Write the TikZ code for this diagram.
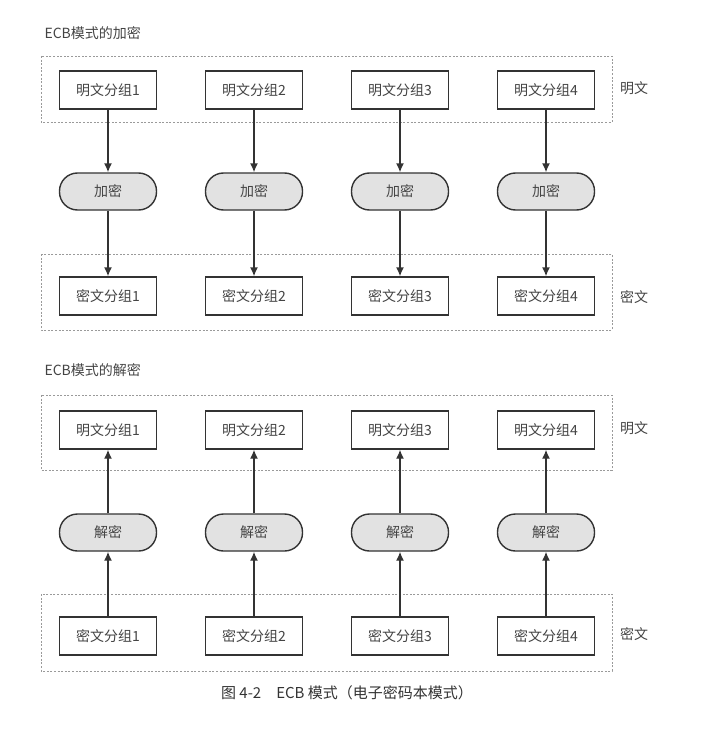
\documentclass[tikz,border=0pt]{standalone}
\usepackage{fontspec}
\setmainfont{Noto Sans CJK SC}
\usetikzlibrary{arrows.meta}
\definecolor{ecbLinea}{HTML}{333333}
\definecolor{ecbTexto}{HTML}{444444}
\definecolor{ecbRelleno}{HTML}{E2E2E2}
\definecolor{ecbMarco}{HTML}{9A9A9A}

\begin{document}
\begin{tikzpicture}[x=1pt, y=-1pt, font=\fontsize{14}{16}\selectfont,
    every node/.style={align=center, text=ecbTexto},
    bloque/.style={draw=ecbLinea, line width=1.4pt, fill=white, minimum width=97pt, minimum height=38pt, inner sep=0pt},
    cifra/.style={draw=ecbLinea, line width=1.4pt, fill=ecbRelleno, rounded corners=18pt, minimum width=97pt, minimum height=37pt, inner sep=0pt},
    marco/.style={draw=ecbMarco, line width=0.7pt, dash pattern=on 2pt off 1.6pt},
    flecha/.style={draw=ecbLinea, line width=1.4pt, -{Latex[length=9pt, width=8pt]}}]
  \useasboundingbox (0,0) rectangle (715,733);

  % cifrado
  \node[anchor=west] (tituloA) at (41,33) {ECB模式的加密};
  \draw[marco] (41,56) rectangle (612,122);
  \draw[marco] (41,254) rectangle (612,330);
  \node (ladoPA) at (634,88) {明文};
  \node (ladoCA) at (634,297) {密文};
  \foreach \i in {1,...,4} {
    \pgfmathsetmacro{\x}{108+146*(\i-1)}
    \node[bloque] (pa\i) at (\x,90) {明文分组\i};
    \node[cifra] (ea\i) at (\x,191.5) {加密};
    \node[bloque] (ca\i) at (\x,296) {密文分组\i};
    \draw[flecha] (pa\i) -- (ea\i);
    \draw[flecha] (ea\i) -- (ca\i);
  }

  % descifrado
  \node[anchor=west] (tituloD) at (41,370) {ECB模式的解密};
  \draw[marco] (41,395) rectangle (612,470);
  \draw[marco] (41,594) rectangle (612,671);
  \node (ladoPD) at (634,428) {明文};
  \node (ladoCD) at (634,634) {密文};
  \foreach \i in {1,...,4} {
    \pgfmathsetmacro{\x}{108+146*(\i-1)}
    \node[bloque] (pd\i) at (\x,430) {明文分组\i};
    \node[cifra] (dd\i) at (\x,532.5) {解密};
    \node[bloque] (cd\i) at (\x,636) {密文分组\i};
    \draw[flecha] (cd\i) -- (dd\i);
    \draw[flecha] (dd\i) -- (pd\i);
  }

  \node[text=ecbLinea, font=\fontsize{15}{17}\selectfont] (pie) at (347,693) {图 4-2\hspace{1em}ECB 模式（电子密码本模式）};
\end{tikzpicture}
\end{document}
